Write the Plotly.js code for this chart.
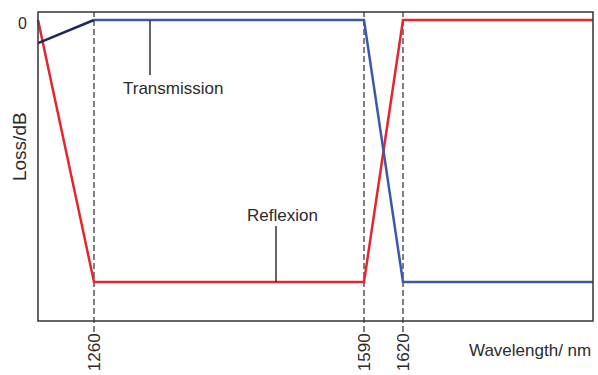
<!DOCTYPE html>
<html>
<head>
<meta charset="utf-8">
<script src="https://cdn.plot.ly/plotly-3.0.1.min.js"></script>
<style>html,body{margin:0;padding:0;background:#fff;}#chart{width:598px;height:375px;}</style>
</head>
<body>
<div id="chart"></div>
<script>
// Schematic positions along the wavelength axis (axis is not to scale)
const cutPositions = [56, 326, 365];          // positions of the marked wavelengths
const cutLabels = ['1260', '1590', '1620'];   // wavelength tick labels (nm)
const axisEnd = 555;

// Reflexion curve (relative loss, 0 = no loss, -1 = full loss level)
const reflX = [0, 56, 326, 365, 555];
const reflY = [0, -1, -1, 0, 0];

// Transmission curve
const transLeadX = [0, 56];
const transLeadY = [-0.088, 0];
const transX = [56, 326, 365, 555];
const transY = [0, 0, -1, -1];

const yTop = 0.0382, yBottom = -1.191, boxBottom = -1.149, boxTop = 0.0305;
const txt = '#2b2b2b';
const fontFam = 'Liberation Sans, Arial, sans-serif';

const traces = [
  {x: reflX, y: reflY, mode: 'lines', line: {color: '#e5262b', width: 2.5}, hoverinfo: 'skip'},
  {x: transX, y: transY, mode: 'lines', line: {color: '#3b59a8', width: 2.5}, hoverinfo: 'skip'},
  {x: transLeadX, y: transLeadY, mode: 'lines', line: {color: '#1c2a58', width: 2.5}, hoverinfo: 'skip'}
];

const shapes = cutPositions.map(p => ({
  type: 'line', xref: 'x', yref: 'y', x0: p, x1: p, y0: yBottom, y1: boxTop,
  line: {color: '#555', width: 1.5, dash: '6px,3px'}, layer: 'below'
}));
shapes.push({type: 'rect', xref: 'x', yref: 'y', x0: 0, x1: axisEnd, y0: boxBottom, y1: boxTop,
  line: {color: '#333', width: 1.5}, layer: 'above'});
shapes.push({type: 'line', xref: 'x', yref: 'y', x0: 112, x1: 112, y0: 0, y1: -0.21,
  line: {color: '#333', width: 1.5}});
shapes.push({type: 'line', xref: 'x', yref: 'y', x0: 238, x1: 238, y0: -0.786, y1: -1,
  line: {color: '#333', width: 1.5}});

const layout = {
  width: 598, height: 375,
  margin: {l: 36, r: 3, t: 10, b: 43, pad: 0},
  paper_bgcolor: '#fff', plot_bgcolor: '#fff',
  showlegend: false,
  font: {family: fontFam, color: txt, size: 17},
  xaxis: {
    range: [-2, 557], showgrid: false, zeroline: false, showline: false,
    tickvals: cutPositions, ticktext: cutLabels, tickangle: -90, ticks: '',
    tickfont: {size: 17, color: txt}, ticklabelstandoff: -3, automargin: false
  },
  yaxis: {
    range: [yBottom, yTop], showgrid: false, zeroline: false, showline: false,
    tickvals: [0], ticktext: ['0'], ticks: '', tickfont: {size: 16, color: txt},
    ticklabelstandoff: 8, ticklabelshift: 3, automargin: false
  },
  shapes: shapes,
  annotations: [
    {text: 'Transmission', xref: 'x', yref: 'y', x: 135, y: -0.26, showarrow: false,
     xanchor: 'center', yanchor: 'middle', font: {size: 17, color: txt}},
    {text: 'Reflexion', xref: 'x', yref: 'y', x: 244, y: -0.748, showarrow: false,
     xanchor: 'center', yanchor: 'middle', font: {size: 17, color: txt}},
    {text: 'Wavelength/ nm', xref: 'x', yref: 'paper', x: axisEnd, y: -0.056, showarrow: false,
     xanchor: 'right', yanchor: 'middle', font: {size: 17, color: txt}},
    {text: 'Loss/dB', xref: 'paper', yref: 'paper', x: -0.0304, y: 0.5745, showarrow: false,
     textangle: -90, xanchor: 'center', yanchor: 'middle', font: {size: 19, color: txt}}
  ]
};

Plotly.newPlot('chart', traces, layout, {staticPlot: true, displayModeBar: false});
</script>
</body>
</html>
